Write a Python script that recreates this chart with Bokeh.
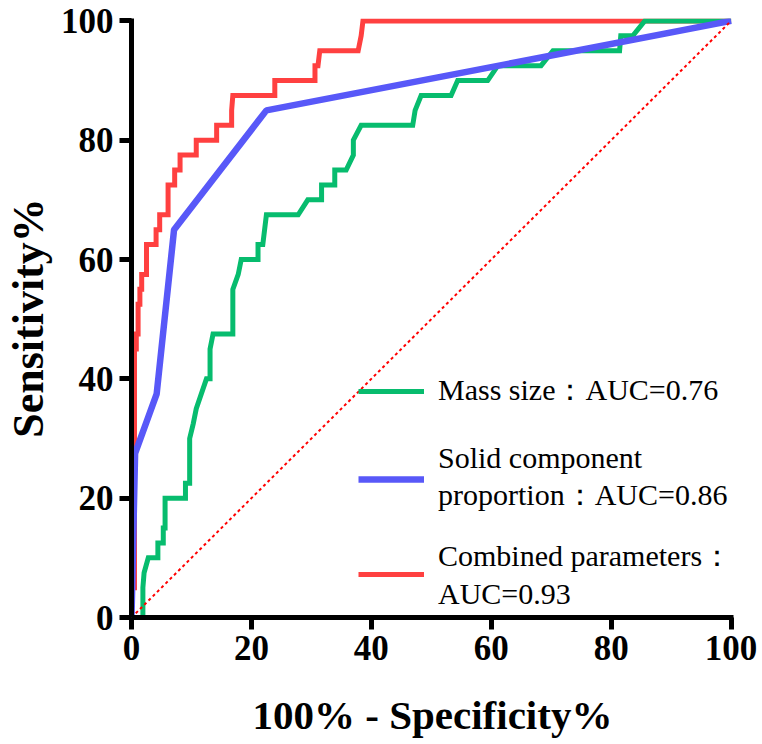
from bokeh.plotting import figure
from bokeh.models import Range1d, Legend, LegendItem
from bokeh.embed import file_html
from bokeh.resources import INLINE

# ---------------- data ----------------
x_ticks = [0, 20, 40, 60, 80, 100]
y_ticks = [0, 20, 40, 60, 80, 100]

mass_fpr = [0, 1.9, 1.9, 2.1, 2.8, 4.4, 4.4, 5.3, 5.3, 5.6, 5.6, 9.0, 9.0, 9.7, 9.7,
            10.3, 10.8, 12.5, 13.1, 13.1, 13.6, 16.9, 16.9, 17.8, 18.3, 21.1, 21.1,
            21.9, 22.5, 27.8, 29.4, 31.7, 31.7, 33.9, 33.9, 35.8, 37.0, 37.0, 38.3,
            46.9, 47.3, 48.3, 53.3, 54.4, 59.4, 61.1, 68.3, 70.3, 81.4, 81.6, 83.6,
            85.6, 100]
mass_tpr = [0, 0, 5, 7.5, 10, 10, 12.5, 12.5, 15, 15, 20, 20, 22.5, 22.5, 30,
            32.5, 35, 40, 40, 45, 47.5, 47.5, 55, 57.5, 60, 60, 62.5,
            62.5, 67.5, 67.5, 70, 70, 72.5, 72.5, 75, 75, 77.5, 80, 82.5,
            82.5, 85, 87.5, 87.5, 90, 90, 92.5, 92.5, 95, 95, 97.5, 97.5,
            100, 100]

solid_fpr = [0, 0.6, 4.2, 7.1, 22.5, 100]
solid_tpr = [0, 27.5, 37.5, 65, 85, 100]

comb_fpr = [0, 0, 0.5, 0.5, 0.8, 0.8, 1.1, 1.1, 1.4, 1.4, 1.7, 1.7, 2.5, 2.5,
            4.1, 4.1, 4.7, 4.7, 6.1, 6.1, 7.2, 7.2, 8.1, 8.1, 10.8, 10.8, 14.2,
            14.2, 16.7, 16.7, 16.9, 23.9, 23.9, 30.6, 30.6, 31.1, 31.4, 37.8,
            38.3, 38.6, 100]
comb_tpr = [0, 5, 5, 45, 45, 47.5, 47.5, 52.5, 52.5, 55, 55, 57.5, 57.5, 62.5,
            62.5, 65, 65, 67.5, 67.5, 72.5, 72.5, 75, 75, 77.5, 77.5, 80, 80,
            82.5, 82.5, 85, 87.5, 87.5, 90, 90, 92.5, 92.5, 95, 95,
            97.5, 100, 100]

ref_line = [0, 100]

labels = ["Mass size\uff1aAUC=0.76",
          "Solid component\nproportion\uff1aAUC=0.86",
          "Combined parameters\uff1a\nAUC=0.93"]

GREEN = "#07BC6E"
BLUE = "#5858F8"
RED = "#FF4040"
SERIF = "Liberation Serif"

# ---------------- figure ----------------
p = figure(frame_width=602, frame_height=599,
           x_range=Range1d(0, 100.4), y_range=Range1d(0, 100.4),
           output_backend="svg", toolbar_location=None,
           min_border_left=130, min_border_right=30,
           min_border_top=18, min_border_bottom=127)

p.grid.visible = False
p.outline_line_color = None
p.background_fill_color = "white"
p.border_fill_color = "white"

r_comb = p.line(comb_fpr, comb_tpr, line_color=RED, line_width=5, line_join="miter")
r_mass = p.line(mass_fpr, mass_tpr, line_color=GREEN, line_width=5, line_join="miter")
r_solid = p.line(solid_fpr, solid_tpr, line_color=BLUE, line_width=6.5)
p.line(ref_line, ref_line, line_color="red", line_width=2, line_dash="3 3")

p.xaxis.ticker = x_ticks
p.yaxis.ticker = y_ticks
p.xaxis.axis_label = "100% - Specificity%"
p.yaxis.axis_label = "Sensitivity%"

for ax in (p.xaxis[0], p.yaxis[0]):
    ax.axis_line_width = 5
    ax.axis_line_color = "black"
    ax.major_tick_line_width = 5
    ax.major_tick_line_color = "black"
    ax.major_tick_out = 12
    ax.major_tick_in = 0
    ax.minor_tick_line_color = None
    ax.major_label_text_font = SERIF
    ax.major_label_text_font_style = "bold"
    ax.major_label_text_font_size = "35px"
    ax.major_label_text_color = "black"
    ax.axis_label_text_font = SERIF
    ax.axis_label_text_font_style = "bold"
    ax.axis_label_text_color = "black"

p.xaxis.major_label_standoff = 6
p.yaxis.major_label_standoff = 6
p.xaxis.axis_label_text_font_size = "41px"
p.yaxis.axis_label_text_font_size = "44px"
p.xaxis.axis_label_standoff = 29
p.yaxis.axis_label_standoff = 5

# ---------------- legends ----------------
leg_specs = [(r_mass, labels[0], (227, 206)),
             (r_solid, labels[1], (227, 101)),
             (r_comb, labels[2], (227, 6))]
for rend, lab, loc in leg_specs:
    leg = Legend(items=[LegendItem(label=lab, renderers=[rend])], location=loc)
    leg.background_fill_alpha = 0
    leg.border_line_color = None
    leg.padding = 0
    leg.margin = 0
    leg.spacing = 0
    leg.glyph_width = 66
    leg.label_standoff = 14
    leg.label_text_font = SERIF
    leg.label_text_font_size = "30px"
    leg.label_text_color = "black"
    leg.label_text_line_height = 1.15
    p.add_layout(leg)

open("out.html", "w").write(file_html(p, INLINE))
